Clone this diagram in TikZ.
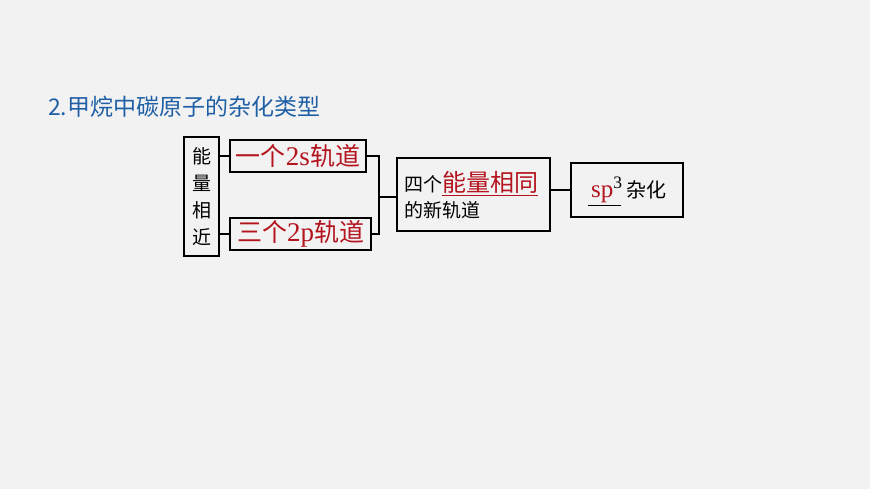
\documentclass[tikz,border=0pt]{standalone}
\usepackage{fontspec}
\setmainfont{Liberation Serif}
\newfontfamily\cjk{Noto Sans CJK SC}
\definecolor{bg}{RGB}{242,242,242}
\definecolor{ttl}{RGB}{31,95,165}
\definecolor{dred}{RGB}{180,20,30}
\begin{document}
\begin{tikzpicture}[x=1pt,y=-1pt,
  bx/.style={draw=black,line width=1.2pt,inner sep=0pt},
  ln/.style={draw=black,line width=1.2pt}]
\fill[bg] (0,0) rectangle (870,489);
\useasboundingbox (0,0) rectangle (870,489);
\node[anchor=west,text=ttl,font=\cjk\fontsize{23}{26}\selectfont,inner sep=0pt] (t) at (48,107) {2.甲烷中碳原子的杂化类型};
\node[bx,minimum width=35pt,minimum height=119pt,align=center,font=\cjk\fontsize{19}{27}\selectfont] (a) at (201.5,196.5) {能\\量\\相\\近};
\node[bx,minimum width=136pt,minimum height=32pt,text=dred,font=\fontsize{27}{28}\selectfont] (s) at (298,156) {{\cjk\fontsize{25}{28}\selectfont 一个}2s{\cjk\fontsize{25}{28}\selectfont 轨道}};
\node[bx,minimum width=141pt,minimum height=32pt,text=dred,font=\fontsize{27}{28}\selectfont] (p) at (300.5,234) {{\cjk\fontsize{25}{28}\selectfont 三个}2p{\cjk\fontsize{25}{28}\selectfont 轨道}};
\node[bx,minimum width=153pt,minimum height=73pt] (n) at (473.5,194.5) {};
\node[anchor=base west,font=\cjk\fontsize{19}{20}\selectfont,inner sep=0pt] (l1) at (404,192) {四个\textcolor{dred}{\fontsize{24}{26}\selectfont\underline{能量相同}}};
\node[anchor=base west,font=\cjk\fontsize{19}{20}\selectfont,inner sep=0pt] (l2) at (404,218) {的新轨道};
\node[bx,minimum width=112pt,minimum height=54pt] (h) at (627,190) {};
\node[anchor=base west,inner sep=0pt,font=\fontsize{25}{26}\selectfont] (hl) at (591,198) {\textcolor{dred}{sp}\textsuperscript{3}\,{\cjk\fontsize{20}{22}\selectfont 杂化}};
\coordinate (u1) at (588,205);
\coordinate (u2) at (621,205);
\draw[line width=0.9pt] (u1) -- (u2);
\coordinate (j) at (379,197);
\draw[ln] (a.east|-s) -- (s.west);
\draw[ln] (a.east|-p) -- (p.west);
\draw[ln] (s.east) -| (j);
\draw[ln] (p.east) -| (j);
\draw[ln] (j) -- (n.west|-j);
\draw[ln] (n.east|-h) -- (h.west);
\end{tikzpicture}
\end{document}
